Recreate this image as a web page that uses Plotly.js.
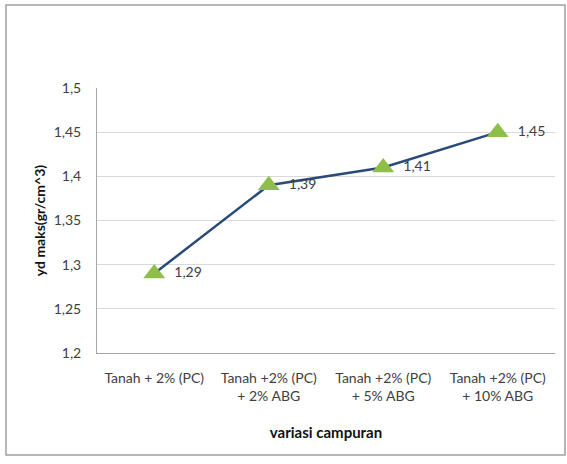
<!DOCTYPE html>
<html><head><meta charset="utf-8">
<script src="https://cdn.plot.ly/plotly-3.0.1.min.js"></script>
<style>html,body{margin:0;padding:0;background:#fff;}#chart{width:567px;height:464px;}</style>
</head><body><div id="chart"></div>
<script>
const categories = ["Tanah + 2% (PC)", "Tanah +2% (PC)<br>+ 2% ABG", "Tanah +2% (PC)<br>+ 5% ABG", "Tanah +2% (PC)<br>+ 10% ABG"];
const ydMaks = [1.29, 1.39, 1.41, 1.45];
const dataLabels = ["1,29", "1,39", "1,41", "1,45"];

const L = 97, R = 12, T = 88, B = 111, W = 567, H = 464;
const pw = W - L - R, ph = H - T - B;
const px = p => (p - L) / pw;
const py = p => (H - B - p) / ph;

Plotly.newPlot('chart', [{
  x: categories, y: ydMaks, type: 'scatter', mode: 'lines+markers+text',
  text: dataLabels.map(s => '  ' + s), textposition: 'middle right',
  textfont: {family: 'Lato, sans-serif', size: 14, color: '#404040'},
  line: {color: '#2a4a78', width: 2.5},
  marker: {symbol: 'triangle-up', size: 19, color: '#8fbf4a'},
  cliponaxis: false, hoverinfo: 'none'
}], {
  width: W, height: H, margin: {l: L, r: R, t: T, b: B},
  paper_bgcolor: '#fff', plot_bgcolor: '#fff', showlegend: false,
  separators: ',.',
  font: {family: 'Lato, sans-serif', size: 14, color: '#404040'},
  xaxis: {type: 'category', showgrid: false, showline: true, linecolor: '#a6a6a6', linewidth: 1,
    ticks: '', tickfont: {size: 14, color: '#404040'}, range: [-0.5, 3.5], ticklabelstandoff: 12,
    title: {text: 'variasi campuran', font: {size: 15, color: '#111', weight: 'bold'}, standoff: 24}},
  yaxis: {range: [1.2, 1.5], dtick: 0.05, tickformat: '.2~f', showgrid: true, gridcolor: '#d9d9d9',
    showline: true, linecolor: '#a6a6a6', zeroline: false, ticks: '', ticklabelstandoff: 12,
    tickfont: {size: 14, color: '#404040'},
    title: {text: 'yd maks(gr/cm^3)', font: {size: 14, color: '#111', weight: 'bold'}, standoff: 4}},
  shapes: [{type: 'rect', xref: 'paper', yref: 'paper', x0: px(6), x1: px(565), y0: py(455), y1: py(5),
    line: {color: '#a0a0a0', width: 1.5}, layer: 'below'}]
}, {staticPlot: true});
</script></body></html>
